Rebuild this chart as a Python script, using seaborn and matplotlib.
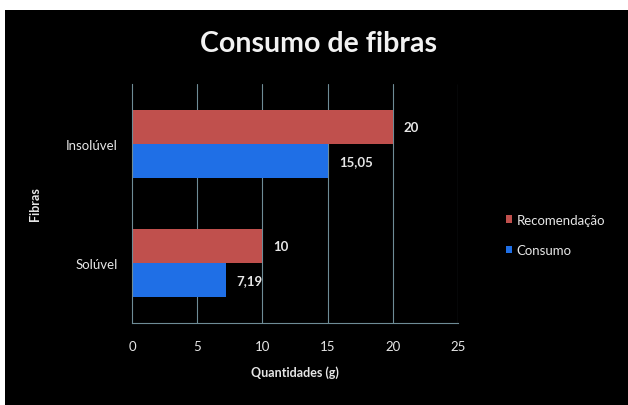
import matplotlib
matplotlib.use("Agg")
import matplotlib.pyplot as plt
import seaborn as sns
import pandas as pd
from matplotlib.patches import Rectangle

categories = ["Insolúvel", "Solúvel"]
series_names = ["Recomendação", "Consumo"]
recomendacao = [20, 10]
consumo = [15.05, 7.19]
x_ticks = [0, 5, 10, 15, 20, 25]

df = pd.DataFrame({
    "Fibras": categories * 2,
    "Serie": [series_names[0]] * 2 + [series_names[1]] * 2,
    "Valor": recomendacao + consumo,
})

sns.set_theme(style="dark")
plt.rcParams["font.family"] = ["Lato", "DejaVu Sans"]

fig = plt.figure(figsize=(6.28, 4.06), dpi=100)
fig.patch.set_facecolor("white")
fig.patches.append(Rectangle((5 / 628, 0), 1 - 5 / 628, 1 - 11 / 406,
                             transform=fig.transFigure, facecolor="black",
                             edgecolor="none", zorder=-10))

ax = fig.add_axes([132 / 628, 1 - 324 / 406, (458 - 132) / 628, (324 - 85) / 406])
ax.set_facecolor("black")

palette = {"Recomendação": "#C0504D", "Consumo": "#1F6FE6"}
sns.barplot(data=df, y="Fibras", x="Valor", hue="Serie", order=categories,
            hue_order=series_names, palette=palette, orient="h",
            width=0.57, saturation=1, ax=ax, legend=False,
            linewidth=0, edgecolor="none")

text_col = "#E6E6E6"
for cont in ax.containers:
    labels = [f"{v:g}".replace(".", ",") for v in cont.datavalues]
    ax.bar_label(cont, labels=labels, padding=8, color=text_col,
                 fontsize=9.5, fontweight="bold")

ax.set_xlim(0, 25)
ax.set_xticks(x_ticks)
ax.set_xticklabels([str(t) for t in x_ticks])
ax.set_ylim(1.5, -0.5)
grid_col = "#6E8C96"
ax.grid(False)
for t in x_ticks[1:]:
    ax.axvline(t, color=grid_col, linewidth=0.8, zorder=0)
ax.set_axisbelow(True)
for side in ["top", "right"]:
    ax.spines[side].set_visible(False)
for side in ["left", "bottom"]:
    ax.spines[side].set_visible(True)
    ax.spines[side].set_color(grid_col)
    ax.spines[side].set_linewidth(0.8)

ax.tick_params(axis="x", colors=text_col, labelsize=9.5, length=0, pad=12)
ax.tick_params(axis="y", colors=text_col, labelsize=9.5, length=0, pad=10)
for lab in ax.get_xticklabels() + ax.get_yticklabels():
    lab.set_color(text_col)

ax.set_xlabel("Quantidades (g)", color=text_col, fontsize=9, fontweight="bold", labelpad=10)
ax.set_ylabel("Fibras", color=text_col, fontsize=9, fontweight="bold", labelpad=18)

fig.text(0.507, 1 - 44 / 406, "Consumo de fibras", ha="center", va="center",
         color="#F2F2F2", fontsize=20.5, fontweight="bold")

handles = [Rectangle((0, 0), 1, 1, facecolor=palette[s], edgecolor="none")
           for s in series_names]
leg = fig.legend(handles, series_names, loc="center left",
                 bbox_to_anchor=(494 / 628, 1 - 236 / 406), frameon=False,
                 handlelength=0.5, handleheight=0.5, handletextpad=0.3,
                 labelspacing=1.4, fontsize=9.5, labelcolor=text_col)

fig.savefig("out.png", dpi=100)
